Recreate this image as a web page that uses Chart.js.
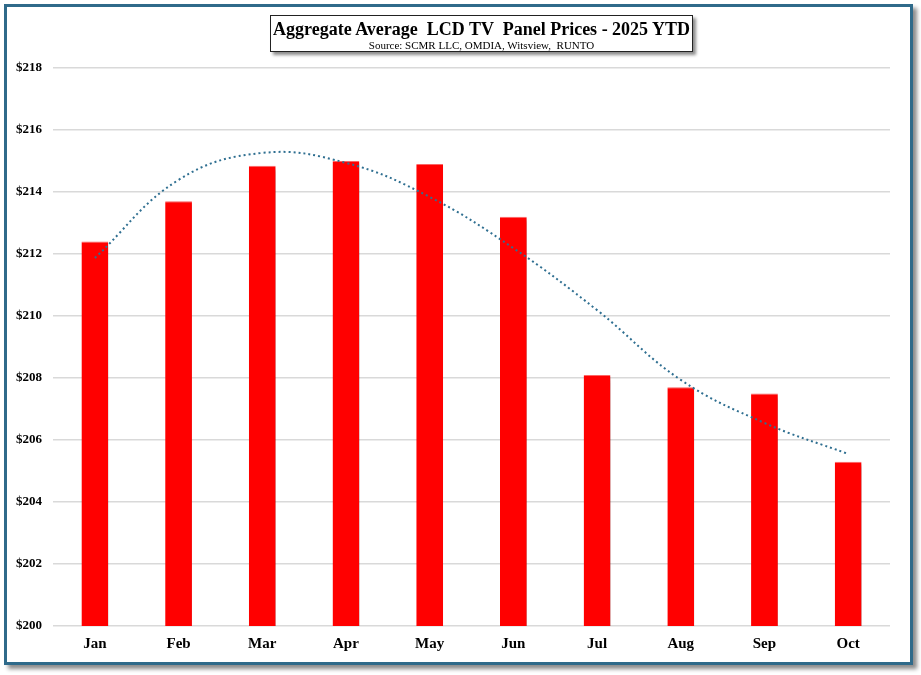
<!DOCTYPE html>
<html>
<head>
<meta charset="utf-8">
<script src="https://cdn.jsdelivr.net/npm/chart.js@4.4.1/dist/chart.umd.min.js"></script>
<style>
  body { margin: 0; background: #fff; }
  #wrap { position: relative; width: 921px; height: 675px; }
  #frame {
    position: absolute; left: 4px; top: 4px; width: 903px; height: 655px;
    border: 3px solid #2f6a8a;
    box-shadow: 4px 4px 4px rgba(0, 0, 0, 0.45);
    background: #fff;
  }
  #chart { position: absolute; left: 0; top: 0; }
  #title {
    position: absolute; left: 270px; top: 15px; width: 421px; height: 35px;
    border: 1.5px solid #222; background: #fff;
    box-shadow: 3px 3px 3px rgba(0, 0, 0, 0.45);
    text-align: center; font-family: "Liberation Serif", serif; color: #000;
  }
  #title .main { font-weight: bold; font-size: 18px; line-height: 20px; margin-top: 3px; white-space: pre; }
  #title .sub { font-size: 11px; line-height: 12px; white-space: pre; }
</style>
</head>
<body>
<div id="wrap">
  <div id="frame"></div>
  <canvas id="chart" width="921" height="675"></canvas>
  <div id="title">
    <div class="main">Aggregate Average  LCD TV  Panel Prices - 2025 YTD</div>
    <div class="sub">Source: SCMR LLC, OMDIA, Witsview,  RUNTO</div>
  </div>
</div>
<script>
// Données
const months = ["Jan", "Feb", "Mar", "Apr", "May", "Jun", "Jul", "Aug", "Sep", "Oct"];
const prices = [212.4, 213.7, 214.85, 215.0, 214.9, 213.2, 208.1, 207.7, 207.5, 205.3];
// Courbe de tendance (pointillés)
const trend = [211.87, 214.39, 215.26, 214.94, 213.84, 212.19, 210.19, 207.94, 206.55, 205.55];

// Ombre sous les barres
const barShadow = {
  id: "barShadow",
  beforeDatasetDraw(chart, args) {
    if (args.meta.type !== "bar") return;
    const ctx = chart.ctx;
    ctx.save();
    ctx.shadowColor = "rgba(0, 0, 0, 0.35)";
    ctx.shadowOffsetX = 3;
    ctx.shadowOffsetY = 2;
    ctx.shadowBlur = 3;
  },
  afterDatasetDraw(chart, args) {
    if (args.meta.type !== "bar") return;
    chart.ctx.restore();
  },
};

const ctx = document.getElementById("chart").getContext("2d");
const chart = new Chart(ctx, {
  data: {
    labels: months,
    datasets: [
      {
        type: "line",
        data: trend,
        borderColor: "#2f6f91",
        borderWidth: 2,
        borderDash: [2, 3],
        tension: 0.4,
        pointRadius: 0,
        fill: false,
        order: 0,
      },
      {
        type: "bar",
        data: prices,
        backgroundColor: "#ff0000",
        borderColor: "#ff6666",
        borderWidth: { top: 1, left: 0, right: 0, bottom: 0 },
        barPercentage: 0.32,
        categoryPercentage: 1,
        order: 1,
      },
    ],
  },
  options: {
    responsive: false,
    animation: false,
    layout: { padding: { top: 68, right: 31, left: 0, bottom: 0 } },
    plugins: {
      legend: { display: false },
      tooltip: { enabled: false },
    },
    scales: {
      x: {
        grid: { display: false, drawTicks: false },
        border: { display: false },
        ticks: { font: { family: "Liberation Serif", size: 15, weight: "bold" }, color: "#000", padding: 9 },
        afterFit: (s) => { s.height = 49; },
      },
      y: {
        min: 200,
        max: 218,
        grid: { color: "#d9d9d9", lineWidth: 1.5, drawTicks: false },
        border: { display: false },
        ticks: {
          stepSize: 2,
          font: { family: "Liberation Serif", size: 13, weight: "bold" },
          color: "#000",
          padding: 11,
          callback: (v) => "$" + v,
        },
        afterFit: (s) => { s.width = 53; },
      },
    },
  },
  plugins: [barShadow],
});
</script>
</body>
</html>
